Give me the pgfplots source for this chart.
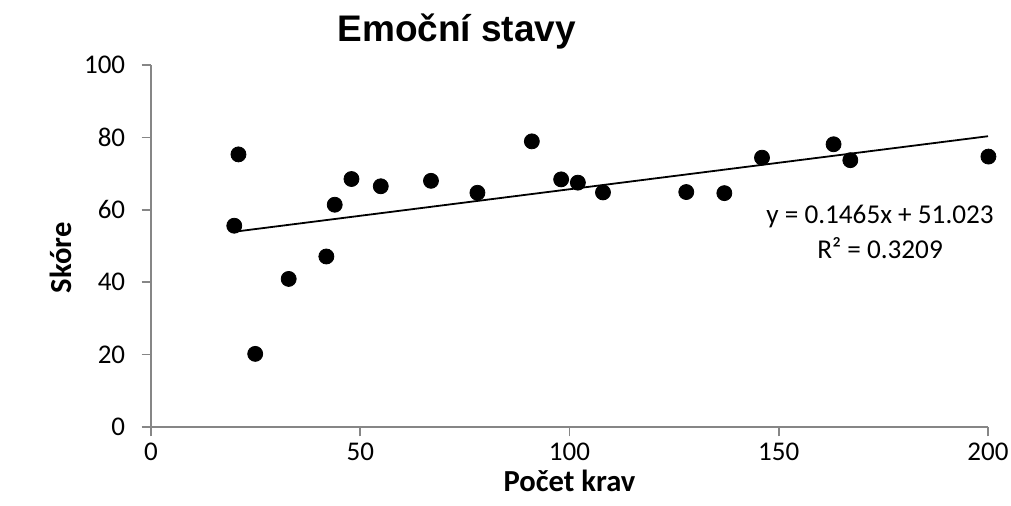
\documentclass[border=0pt]{standalone}
\usepackage{fontspec}
\setmainfont{Carlito}
\newfontfamily\arialfont{Liberation Sans}
\usepackage{pgfplots}
\pgfplotsset{compat=1.18}
\definecolor{axgray}{RGB}{134,134,134}
\begin{document}
\begin{tikzpicture}
\begin{axis}[
  scale only axis, width=418.5pt, height=181pt,
  xmin=0, xmax=200, ymin=0, ymax=100,
  xtick={0,50,...,200}, ytick={0,20,...,100},
  axis x line*=bottom, axis y line*=left,
  axis line style={axgray, line width=0.8pt},
  tick style={axgray, line width=0.8pt},
  tick align=outside, major tick length=4.7pt,
  /pgf/number format/assume math mode=true,
  ticklabel style={font=\fontsize{13.5}{16}\selectfont, text=black},
  xticklabel style={anchor=base, yshift=-12.3pt},
  yticklabel style={anchor=east, xshift=-4.7pt},
  label style={font=\fontsize{15.3}{18}\selectfont\bfseries},
  xlabel={Počet krav}, ylabel={Skóre},
  xlabel style={at={(axis description cs:0.5,0)}, anchor=base, yshift=-32.5pt},
  ylabel style={at={(axis description cs:-0.0944,0.467)}, anchor=base, rotate=0},
  clip=false,
]
\addplot[only marks, mark=*, mark size=3.75pt, black] coordinates {
 (19.9,55.6) (20.9,75.3) (24.9,20.2) (32.9,40.9) (41.9,47.1) (43.9,61.4)
 (47.9,68.5) (54.9,66.5) (66.9,68.0) (78.0,64.7) (91.0,78.9) (98.0,68.4)
 (102.0,67.5) (108.0,64.8) (127.9,64.9) (137.0,64.6) (146.0,74.4)
 (163.1,78.1) (167.1,73.7) (200.1,74.7)
};
\addplot[black, line width=0.9pt] coordinates {(20,53.95) (200,80.32)};
\node[anchor=base, font=\fontsize{13.6}{16}\selectfont] at (axis cs:174.2,56.08) {y = 0.1465x + 51.023};
\node[anchor=base, font=\fontsize{13.6}{16}\selectfont] at (axis cs:174.2,46.6) {R² = 0.3209};
\coordinate (tl) at (rel axis cs:0,1);
\coordinate (br) at (rel axis cs:1,0);
\end{axis}
\node[anchor=base, font=\arialfont\fontsize{18.5}{20}\selectfont\bfseries] at ([xshift=152.85pt, yshift=11.65pt]tl) {Emoční stavy};
\pgfresetboundingbox
\path[use as bounding box] ([xshift=-75.5pt, yshift=32.5pt]tl) rectangle ([xshift=11.5pt, yshift=-39.5pt]br);
\end{tikzpicture}
\end{document}
